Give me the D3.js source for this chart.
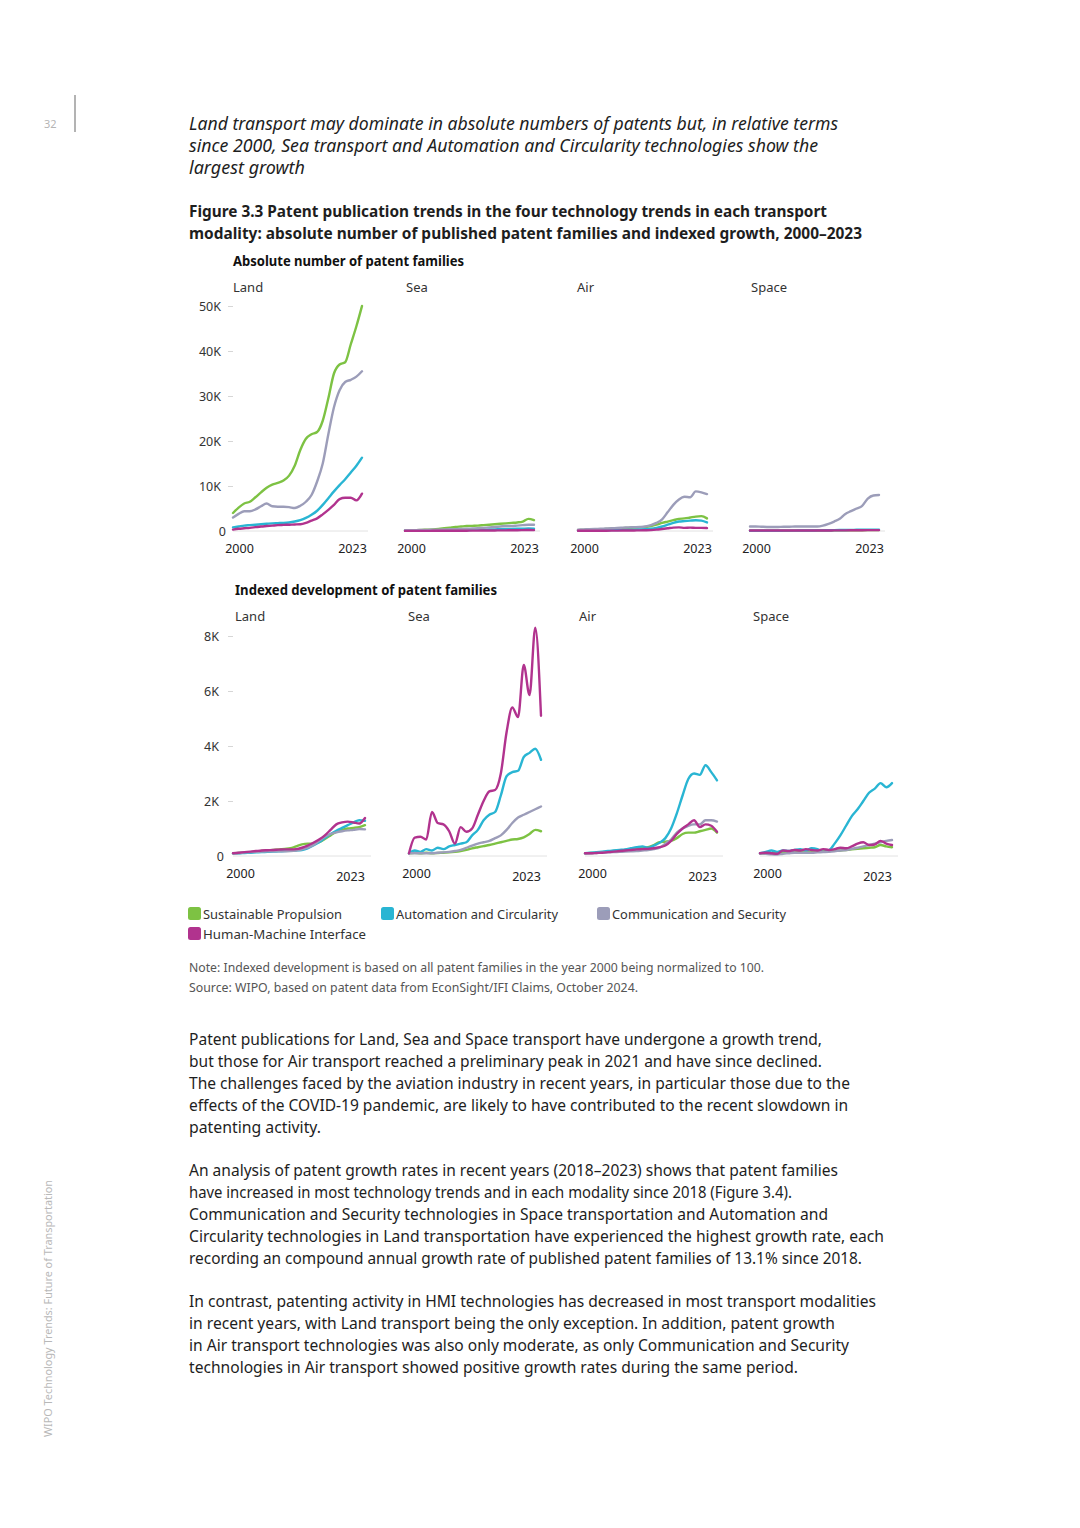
<!DOCTYPE html>
<html>
<head>
<meta charset="utf-8">
<script src="https://cdn.jsdelivr.net/npm/d3@7/dist/d3.min.js"></script>
<style>
  html, body { margin: 0; padding: 0; background: #fff; }
  svg { display: block; font-family: "Noto Sans", "Open Sans", sans-serif; }
</style>
</head>
<body>
<svg id="page" width="1080" height="1528"></svg>
<script>

var years = [2000,2001,2002,2003,2004,2005,2006,2007,2008,2009,2010,2011,2012,2013,2014,2015,2016,2017,2018,2019,2020,2021,2022,2023];
var modalities = ["Land", "Sea", "Air", "Space"];
var trends = ["Sustainable Propulsion", "Automation and Circularity", "Communication and Security", "Human-Machine  Interface"];
var trendColors = ["#7dc243", "#29b5d3", "#9c9db9", "#b1338e"];
var yearTicks = [2000, 2023];
var absTicks = [0, 10000, 20000, 30000, 40000, 50000];
var idxTicks = [0, 2000, 4000, 6000, 8000];

// absolute number of published patent families
var absLandSP  = [4000,5200,6100,6500,7500,8600,9600,10300,10700,11200,12300,14500,18000,20500,21500,22000,24500,29500,35000,37000,37500,41500,45500,50000];
var absLandAC  = [800,1000,1200,1300,1400,1500,1600,1700,1750,1800,1900,2100,2400,2900,3600,4500,5800,7300,8800,10200,11500,13000,14500,16300];
var absLandCS  = [3000,3800,4400,4400,4800,5500,6100,5500,5400,5400,5300,5100,5600,6500,8000,11000,15000,21500,27500,31300,33100,33600,34300,35500];
var absLandHMI = [300,500,600,700,850,1000,1100,1200,1300,1350,1400,1450,1500,1800,2300,2800,3700,4700,5800,7100,7400,7400,6800,8300];

var absSeaSP  = [100,150,200,250,300,350,450,600,750,900,1000,1100,1150,1200,1300,1400,1500,1600,1700,1800,1900,2100,2700,2400];
var absSeaAC  = [50,60,70,80,90,100,120,140,160,180,200,220,250,280,300,330,360,400,430,460,500,520,550,500];
var absSeaCS  = [200,200,200,250,250,300,300,350,400,400,450,500,550,600,700,800,900,1000,1100,1100,1200,1300,1400,1400];
var absSeaHMI = [20,20,20,30,30,40,40,50,50,60,60,70,80,90,100,110,120,140,150,170,180,200,210,200];

var absAirSP  = [200,250,300,350,400,450,500,600,650,700,750,800,900,1100,1400,1800,2100,2400,2700,2800,3000,3200,3300,2800];
var absAirAC  = [100,100,120,140,160,180,200,220,250,280,300,350,400,500,700,1000,1400,1800,2100,2200,2300,2400,2300,1900];
var absAirCS  = [300,350,400,450,500,550,600,700,750,800,850,900,1000,1300,1800,2600,4200,5800,7000,7600,7500,8800,8600,8200];
var absAirHMI = [50,50,50,50,60,70,80,90,100,100,120,140,160,200,300,450,600,750,800,700,750,700,700,650];

var absSpaceSP  = [50,50,50,50,60,60,70,70,80,80,90,90,100,110,120,130,140,150,160,170,180,190,200,200];
var absSpaceAC  = [50,50,60,60,70,70,80,80,90,100,110,120,130,150,170,190,210,230,250,270,290,300,310,300];
var absSpaceCS  = [1000,1000,950,900,900,900,950,950,1000,1000,1000,1000,1000,1200,1600,2100,2700,3800,4400,5000,5600,7200,7900,8000];
var absSpaceHMI = [100,100,100,100,100,100,100,100,100,100,100,100,100,110,120,130,140,150,160,170,180,190,200,200];

// indexed development (2000 = 100)
var idxLandSP  = [100,110,120,140,160,180,200,220,240,260,280,350,420,450,450,500,620,750,880,950,1000,1020,1050,1120];
var idxLandAC  = [100,100,110,120,130,140,150,160,170,180,190,200,220,280,380,500,650,800,920,1020,1120,1220,1300,1280];
var idxLandCS  = [100,110,130,140,150,160,170,170,170,170,180,200,240,300,400,550,700,800,860,900,930,950,980,970];
var idxLandHMI = [100,120,140,160,180,200,210,220,230,240,240,250,300,380,480,600,750,950,1150,1220,1250,1220,1180,1380];

var idxSeaSP  = [100,120,100,120,100,110,120,130,150,180,220,280,320,360,400,450,500,550,600,620,680,800,950,900];
var idxSeaAC  = [100,200,150,250,200,300,250,350,400,450,500,750,950,1300,1500,1600,2200,2900,3050,3100,3600,3750,3900,3500];
var idxSeaCS  = [100,100,100,100,100,120,130,150,180,220,300,380,450,500,550,650,750,950,1200,1400,1500,1600,1700,1800];
var idxSeaHMI = [100,670,700,600,1600,1200,1150,900,450,1050,880,1000,1500,2000,2350,2400,3000,4500,5400,5050,6950,5850,8300,5100];

var idxAirSP  = [100,110,120,140,160,180,200,220,250,280,300,320,400,500,520,550,650,800,850,850,900,950,1000,850];
var idxAirAC  = [100,120,140,160,180,200,220,240,280,320,350,300,380,480,650,1000,1550,2200,2800,3000,2950,3300,3050,2750];
var idxAirCS  = [100,100,110,120,130,140,150,160,170,180,200,220,250,300,450,600,850,1000,1100,1150,1150,1300,1300,1250];
var idxAirHMI = [100,100,110,120,140,160,180,200,220,240,250,260,280,320,380,550,800,1000,1150,1300,1050,1150,1100,880];

var idxSpaceSP  = [100,100,100,100,120,120,130,140,150,150,160,170,180,190,200,220,240,260,280,300,320,400,350,320];
var idxSpaceAC  = [100,150,200,150,200,180,220,250,200,280,250,150,200,450,750,1100,1450,1700,2000,2300,2450,2650,2500,2650];
var idxSpaceCS  = [100,80,60,50,80,100,120,120,120,120,130,140,150,170,200,220,260,300,350,400,450,500,550,580];
var idxSpaceHMI = [100,120,100,80,200,180,220,200,250,220,200,250,220,250,300,280,350,450,500,400,420,550,450,400];

var absData = [
  [absLandSP, absLandAC, absLandCS, absLandHMI],
  [absSeaSP, absSeaAC, absSeaCS, absSeaHMI],
  [absAirSP, absAirAC, absAirCS, absAirHMI],
  [absSpaceSP, absSpaceAC, absSpaceCS, absSpaceHMI]
];
var idxData = [
  [idxLandSP, idxLandAC, idxLandCS, idxLandHMI],
  [idxSeaSP, idxSeaAC, idxSeaCS, idxSeaHMI],
  [idxAirSP, idxAirAC, idxAirCS, idxAirHMI],
  [idxSpaceSP, idxSpaceAC, idxSpaceCS, idxSpaceHMI]
];

var svg = d3.select("#page");
svg.append("rect").attr("width", 1080).attr("height", 1528).attr("fill", "#fff");

function txt(x, y, s, size, opts) {
  opts = opts || {};
  var t = svg.append("text")
    .attr("x", x).attr("y", y)
    .attr("font-size", size)
    .attr("fill", opts.fill || "#1e1e1e")
    .attr("font-weight", opts.weight || "normal")
    .attr("font-style", opts.style || "normal")
    .text(s);
  if (opts.end) {
    t.attr("textLength", opts.end - x).attr("lengthAdjust", "spacingAndGlyphs");
  }
  return t;
}

/* page furniture */
txt(44, 128, "32", 11, {fill: "#b5b5b5"});
svg.append("line").attr("x1", 75).attr("x2", 75).attr("y1", 95).attr("y2", 132)
  .attr("stroke", "#9a9a9a").attr("stroke-width", 1.5);
svg.append("text")
  .attr("transform", "translate(52,1437) rotate(-90)")
  .attr("font-size", 11).attr("fill", "#b8b8b8")
  .attr("textLength", 257).attr("lengthAdjust", "spacingAndGlyphs")
  .text("WIPO Technology Trends: Future of Transportation");

/* headline + figure title */
txt(189, 130, "Land transport may dominate in absolute numbers of patents but, in relative terms", 18, {style: "italic", end: 838});
txt(189, 152, "since 2000, Sea transport and Automation and Circularity technologies show the", 18, {style: "italic", end: 818});
txt(189, 174, "largest growth", 18, {style: "italic", end: 305});
txt(189, 217, "Figure 3.3 Patent publication trends in the four technology trends in each transport", 16, {weight: "bold", end: 827});
txt(189, 239, "modality: absolute number of published patent families and indexed growth, 2000\u20132023", 16, {weight: "bold", end: 862});

/* small multiples */
function drawRow(cfg) {
  txt(cfg.labelX, cfg.labelY, cfg.label, 13.5, {weight: "bold", end: cfg.labelEnd, fill: "#111"});

  var y = d3.scaleLinear().domain(cfg.domain).range([cfg.y0, cfg.y1]);

  var yAxis = svg.append("g")
    .attr("transform", "translate(" + cfg.panelX[0] + ",0)")
    .call(d3.axisLeft(y).tickValues(cfg.ticks).tickSize(5).tickPadding(cfg.pad)
      .tickFormat(function(d) { return d === 0 ? "0" : (d / 1000) + "K"; }));
  yAxis.select(".domain").remove();
  yAxis.selectAll(".tick line").attr("stroke", "#d6d6d6");
  yAxis.selectAll(".tick").filter(function(d) { return d === 0; }).select("line").remove();
  yAxis.selectAll(".tick").filter(function(d) { return d === 0; }).select("text").attr("dx", 5);
  yAxis.selectAll("text").attr("font-size", 12.5).attr("fill", "#333")
    .attr("font-family", "Noto Sans, sans-serif");

  modalities.forEach(function(m, i) {
    var x0 = cfg.panelX[i];
    var x = d3.scaleLinear().domain([2000, 2023]).range([x0, x0 + cfg.panelW]);

    txt(cfg.titleX[i], cfg.titleY, m, 13, {fill: "#333"});

    svg.append("line")
      .attr("x1", x(2000)).attr("x2", x(2023) + 6)
      .attr("y1", y(0)).attr("y2", y(0))
      .attr("stroke", "#e2e2e2").attr("stroke-width", 1);

    // year labels: baseline sits on yearY (dy overridden)
    var xAxis = svg.append("g")
      .attr("transform", "translate(0," + cfg.yearY + ")")
      .call(d3.axisBottom(x).tickValues(yearTicks).tickSize(0).tickPadding(0).tickFormat(d3.format("d")));
    xAxis.select(".domain").remove();
    xAxis.selectAll("text").attr("font-size", 12.5).attr("fill", "#222")
      .attr("font-family", "Noto Sans, sans-serif")
      .attr("dx", function(d) { return d === 2000 ? cfg.dx0 : cfg.dx1; })
      .attr("dy", function(d) { return d === 2000 ? 0 : cfg.dy1; });

    var line = d3.line()
      .x(function(d, j) { return x(years[j]); })
      .y(function(d) { return y(d); })
      .curve(d3.curveMonotoneX);

    cfg.data[i].forEach(function(vals, k) {
      svg.append("path")
        .datum(vals)
        .attr("fill", "none")
        .attr("stroke", trendColors[k])
        .attr("stroke-width", 2.4)
        .attr("stroke-linejoin", "round")
        .attr("stroke-linecap", "round")
        .attr("d", line);
    });
  });
}

drawRow({
  label: "Absolute number of patent families", labelX: 233, labelY: 266, labelEnd: 464,
  domain: [0, 50000], ticks: absTicks, y0: 531, y1: 306, pad: 7,
  panelX: [233, 405, 578, 750], panelW: 129,
  titleX: [233, 406, 577, 751], titleY: 292,
  yearY: 553, dx0: 6, dx1: -10, dy1: 0,
  data: absData
});

drawRow({
  label: "Indexed development of patent families", labelX: 235, labelY: 595, labelEnd: 497,
  domain: [0, 8000], ticks: idxTicks, y0: 856, y1: 636, pad: 9,
  panelX: [233, 409, 585, 760], panelW: 132,
  titleX: [235, 408, 579, 753], titleY: 621,
  yearY: 878, dx0: 7, dx1: -15, dy1: 3,
  data: idxData
});

/* legend */
var legendItems = [
  {x: 188, y: 907, end: 342},
  {x: 381, y: 907, end: 558},
  {x: 597, y: 907, end: 786},
  {x: 188, y: 927, end: 366}
];
trends.forEach(function(t, i) {
  var it = legendItems[i];
  svg.append("rect").attr("x", it.x).attr("y", it.y).attr("width", 13).attr("height", 13)
    .attr("rx", 2.5).attr("fill", trendColors[i]);
  txt(it.x + 15, it.y + 11.5, t, 13, {fill: "#333", end: it.end});
});

/* notes */
txt(189, 972, "Note: Indexed development is based on all patent families in the year 2000 being normalized to 100.", 12, {fill: "#555", end: 764});
txt(189, 992, "Source: WIPO, based on patent data from EconSight/IFI Claims, October 2024.", 12, {fill: "#555", end: 638});

/* body text */
var bodyLines = [
  ["Patent publications for Land, Sea and Space transport have undergone a growth trend,", 1045, 822],
  ["but those for Air transport reached a preliminary peak in 2021 and have since declined.", 1067, 822],
  ["The challenges faced by the aviation industry in recent years, in particular those due to the", 1089, 850],
  ["effects of the COVID-19 pandemic, are likely to have contributed to the recent slowdown in", 1111, 848],
  ["patenting activity.", 1133, 321],
  ["An analysis of patent growth rates in recent years (2018\u20132023) shows that patent families", 1176, 838],
  ["have increased in most technology trends and in each modality since 2018 (Figure 3.4).", 1198, 792],
  ["Communication and Security technologies in Space transportation and Automation and", 1220, 828],
  ["Circularity technologies in Land transportation have experienced the highest growth rate, each", 1242, 884],
  ["recording an compound annual growth rate of published patent families of 13.1% since 2018.", 1264, 862],
  ["In contrast, patenting activity in HMI technologies has decreased in most transport modalities", 1307, 876],
  ["in recent years, with Land transport being the only exception. In addition, patent growth", 1329, 835],
  ["in Air transport technologies was also only moderate, as only Communication and Security", 1351, 849],
  ["technologies in Air transport showed positive growth rates during the same period.", 1373, 798]
];
bodyLines.forEach(function(l) {
  txt(189, l[1], l[0], 16, {fill: "#1e1e1e", end: l[2]});
});

</script>
</body>
</html>
